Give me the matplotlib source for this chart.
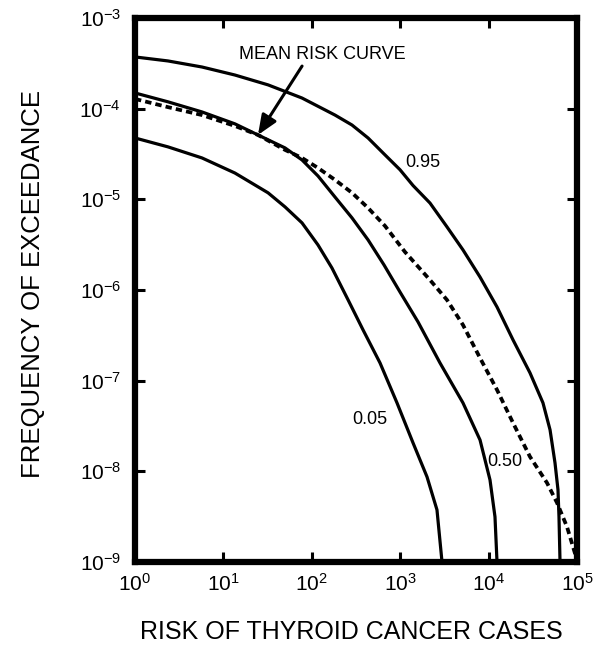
import matplotlib
matplotlib.use("Agg")
import matplotlib.pyplot as plt

plt.rcParams["font.family"] = ["Liberation Sans", "DejaVu Sans"]
plt.rcParams["mathtext.fontset"] = "custom"
plt.rcParams["mathtext.rm"] = "Liberation Sans"
plt.rcParams["mathtext.it"] = "Liberation Sans:italic"
plt.rcParams["mathtext.bf"] = "Liberation Sans:bold"
plt.rcParams["axes.unicode_minus"] = False

# =========================================================
# Data
# =========================================================

# 95th percentile curve
p95_x = [1, 2.36, 5.73, 13.5, 32.0, 77.5, 183, 285, 433, 656, 995, 1397, 2173,
         3381, 5129, 7998, 12450, 18880, 29380, 41210, 49550, 56380, 60950,
         62550, 64270]
p95_y = [3.72e-4, 3.36e-4, 2.88e-4, 2.35e-4, 1.83e-4, 1.31e-4, 8.5e-5, 6.6e-5,
         4.75e-5, 3.17e-5, 2.12e-5, 1.42e-5, 9.1e-6, 4.97e-6, 2.77e-6, 1.39e-6,
         6.5e-7, 2.82e-7, 1.22e-7, 5.69e-8, 2.87e-8, 1.24e-8, 6.25e-9, 3.15e-9,
         1e-9]

# median curve
p50_x = [1, 2.36, 5.73, 13.5, 24.6, 49.8, 77.5, 117.5, 183, 285, 433, 656, 995,
         1590, 2818, 5129, 7998, 10370, 11810, 12450]
p50_y = [1.49e-4, 1.19e-4, 9.2e-5, 6.8e-5, 5.13e-5, 3.69e-5, 2.72e-5, 1.81e-5,
         1.06e-5, 6.24e-6, 3.57e-6, 1.89e-6, 9.5e-7, 4.45e-7, 1.57e-7, 5.69e-8,
         2.22e-8, 8.05e-9, 3.15e-9, 1e-9]

# 5th percentile curve
p05_x = [1, 2.36, 5.73, 13.5, 32.0, 49.8, 77.5, 117.5, 169, 257, 380, 591, 920,
         1397, 2010, 2606, 2972]
p05_y = [4.75e-5, 3.79e-5, 2.86e-5, 1.95e-5, 1.18e-5, 8.25e-6, 5.5e-6, 3.14e-6,
         1.75e-6, 7.8e-7, 3.63e-7, 1.57e-7, 5.69e-8, 2.06e-8, 8.7e-9, 3.76e-9,
         1e-9]

# mean risk curve (dashed)
mean_x = [1, 2.36, 5.73, 13.5, 24.6, 49.8, 77.5, 117.5, 183, 285, 433, 673,
          1132, 2173, 3381, 5129, 7998, 12450, 18880, 29380, 45810, 59430,
          77100, 97500]
mean_y = [1.28e-4, 1.04e-4, 8.5e-5, 6.45e-5, 5.13e-5, 3.51e-5, 2.86e-5, 2.22e-5,
          1.64e-5, 1.18e-5, 8.04e-6, 5.09e-6, 2.63e-6, 1.29e-6, 7.78e-7,
          4.12e-7, 1.78e-7, 7.92e-8, 3.43e-8, 1.45e-8, 7.46e-9, 4.5e-9, 2.44e-9,
          1.14e-9]

x_ticks = [1, 10, 100, 1e3, 1e4, 1e5]
x_ticklabels = ["$10^{0}$", "$10^{1}$", "$10^{2}$", "$10^{3}$", "$10^{4}$", "$10^{5}$"]
y_ticks = [1e-9, 1e-8, 1e-7, 1e-6, 1e-5, 1e-4, 1e-3]
y_ticklabels = ["$10^{-9}$", "$10^{-8}$", "$10^{-7}$", "$10^{-6}$",
                "$10^{-5}$", "$10^{-4}$", "$10^{-3}$"]

# curve labels: (text, x, y)
curve_labels = [("0.95", 1820, 2.58e-5), ("0.50", 15310, 1.27e-8), ("0.05", 455, 3.7e-8)]

# =========================================================
# Plot
# =========================================================

fig = plt.figure(figsize=(6.02, 6.55), dpi=100)
ax = fig.add_axes([135 / 602, 1 - 562 / 655, 442 / 602, 544 / 655])

lw = 2.3
ax.plot(p95_x, p95_y, color="black", lw=lw)
ax.plot(p50_x, p50_y, color="black", lw=lw)
ax.plot(p05_x, p05_y, color="black", lw=lw)
ax.plot(mean_x, mean_y, color="black", lw=2.7, linestyle=(0, (1.7, 1.1)))

ax.set_xscale("log")
ax.set_yscale("log")
ax.set_xlim(1, 1e5)
ax.set_ylim(1e-9, 1e-3)

ax.set_xticks(x_ticks)
ax.set_xticklabels(x_ticklabels)
ax.set_yticks(y_ticks)
ax.set_yticklabels(y_ticklabels)
ax.minorticks_off()
ax.tick_params(which="major", direction="in", length=7, width=2.2,
               top=True, right=True, labelsize=15)
ax.tick_params(axis="x", pad=8)
ax.tick_params(axis="y", pad=10)

for spine in ax.spines.values():
    spine.set_linewidth(4.5)

for txt, x, y in curve_labels:
    ax.text(x, y, txt, fontsize=13, ha="center", va="center")

ax.text(130, 4.0e-4, "MEAN RISK CURVE", fontsize=13, ha="center", va="center")
ax.annotate(
    "",
    xy=(24.6, 5.13e-5),
    xytext=(77.6, 2.95e-4),
    arrowprops=dict(arrowstyle="-|>,head_length=0.6,head_width=0.25",
                    color="black", lw=2.2, shrinkA=0, shrinkB=0,
                    mutation_scale=20),
)

ax.set_xlabel("RISK OF THYROID CANCER CASES", fontsize=18, va="center")
ax.xaxis.set_label_coords(0.49, -0.129)
ax.set_ylabel("FREQUENCY OF EXCEEDANCE", fontsize=18.5, va="center")
ax.yaxis.set_label_coords(-0.231, 0.511)

fig.savefig("out.png", dpi=100)
